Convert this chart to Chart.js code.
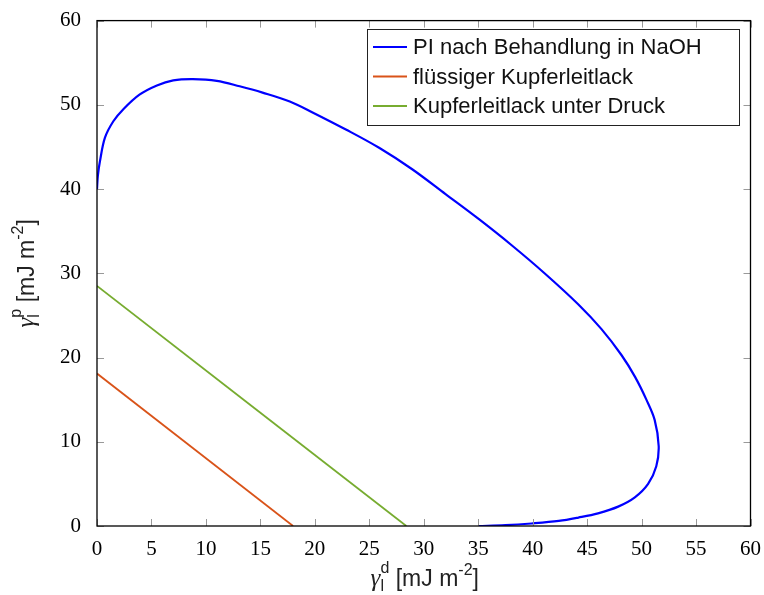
<!DOCTYPE html>
<html>
<head>
<meta charset="utf-8">
<script src="https://cdn.jsdelivr.net/npm/chart.js@4"></script>
<style>
  html, body { margin: 0; padding: 0; background: #fff; }
  #wrap { width: 764px; height: 595px; }
</style>
</head>
<body>
<div id="wrap"><canvas id="chartCanvas" width="764" height="595"></canvas></div>
<script>
// wetting envelope of PI after NaOH treatment (gamma_l^d, gamma_l^p)
const piX = [0, 0.08, 0.27, 0.73, 1.5, 2.4, 3.9, 5.5, 7.0, 8.8, 11.0, 13.1, 15.2, 17.7, 19.79, 22.85, 25.9, 28.94, 32.0, 35.04,
  38.1, 41.14, 44.2, 46.3, 48.15, 49.4, 50.44, 51.2, 51.57, 51.35, 50.6, 49.38, 47.85, 46.0, 44.2, 42.4, 39.9, 37.5, 35.0];
const piY = [40, 41.6, 43.3, 46.1, 48.05, 49.45, 51.2, 52.3, 52.9, 53.05, 52.85, 52.2, 51.45, 50.4, 49.1, 47.07, 44.9, 42.35, 39.4, 36.45,
  33.3, 29.95, 26.3, 23.4, 20.3, 17.7, 15.0, 12.6, 9.5, 7.1, 5.0, 3.4, 2.3, 1.5, 1.0, 0.6, 0.3, 0.1, 0];

// copper lacquer lines
const fluessigX = [0, 18.0];
const fluessigY = [18.1, 0];
const druckX = [0, 28.4];
const druckY = [28.5, 0];

const seriesLabels = ['PI nach Behandlung in NaOH', 'flüssiger Kupferleitlack', 'Kupferleitlack unter Druck'];
const xTicks = [0, 5, 10, 15, 20, 25, 30, 35, 40, 45, 50, 55, 60];
const yTicks = [0, 10, 20, 30, 40, 50, 60];

const toPoints = (xs, ys) => xs.map((x, i) => ({ x, y: ys[i] }));

const SANS = '"Liberation Sans", Arial, sans-serif';
const SERIF = '"Liberation Serif", "DejaVu Serif", serif';

// draws a run of text pieces (with sub/superscripts) centred on (cx, cy)
function drawRich(ctx, parts, cx, cy, angle) {
  ctx.save();
  ctx.translate(cx, cy);
  if (angle) ctx.rotate(angle);
  ctx.textBaseline = 'alphabetic';
  ctx.textAlign = 'left';
  let total = 0;
  parts.forEach(p => { ctx.font = p.font; p.w = ctx.measureText(p.t).width; total += p.adv === 0 ? 0 : p.w; });
  let x = -total / 2;
  parts.forEach(p => {
    ctx.font = p.font;
    ctx.fillStyle = p.color || '#222';
    ctx.fillText(p.t, x, p.dy || 0);
    if (p.adv !== 0) x += p.w;
  });
  ctx.restore();
}

const axisTitles = {
  id: 'axisTitles',
  afterDraw(chart) {
    const ctx = chart.ctx;
    const a = chart.chartArea;
    const parts = (sup) => [
      { t: 'γ', font: 'italic 25px ' + SERIF, dy: 7 },
      { t: 'l', font: '16px ' + SANS, dy: 12, adv: 0 },
      { t: sup, font: '16px ' + SANS, dy: -6 },
      { t: ' [mJ m', font: '23px ' + SANS, dy: 7 },
      { t: '-2', font: '16px ' + SANS, dy: -4 },
      { t: ']', font: '23px ' + SANS, dy: 7 }
    ];
    drawRich(ctx, parts('d'), (a.left + a.right) / 2 + 1, 579);
    drawRich(ctx, parts('p'), 27, (a.top + a.bottom) / 2, -Math.PI / 2);
  }
};

// box frame plus inward tick marks on all four sides
const frameTicks = {
  id: 'frameTicks',
  afterDatasetsDraw(chart) {
    const ctx = chart.ctx;
    const a = chart.chartArea;
    const xs = chart.scales.x, ys = chart.scales.y;
    const len = 7;
    ctx.save();
    ctx.strokeStyle = '#999';
    ctx.lineWidth = 1;
    ctx.beginPath();
    xTicks.forEach(v => {
      const px = Math.round(xs.getPixelForValue(v)) + 0.5;
      ctx.moveTo(px, a.bottom); ctx.lineTo(px, a.bottom - len);
      ctx.moveTo(px, a.top); ctx.lineTo(px, a.top + len);
    });
    yTicks.forEach(v => {
      const py = Math.round(ys.getPixelForValue(v)) + 0.5;
      ctx.moveTo(a.left, py); ctx.lineTo(a.left + len, py);
      ctx.moveTo(a.right, py); ctx.lineTo(a.right - len, py);
    });
    ctx.stroke();
    ctx.strokeStyle = '#000';
    ctx.lineWidth = 1.3;
    ctx.strokeRect(a.left, a.top, a.right - a.left, a.bottom - a.top);
    ctx.restore();
  }
};

// legend box in the upper right of the plot
const boxLegend = {
  id: 'boxLegend',
  afterDraw(chart) {
    const ctx = chart.ctx;
    const left = 367, top = 29, w = 372, h = 96;
    ctx.save();
    ctx.fillStyle = '#fff';
    ctx.fillRect(left, top, w, h);
    ctx.strokeStyle = '#222';
    ctx.lineWidth = 1;
    ctx.strokeRect(left + 0.5, top + 0.5, w, h);
    ctx.font = '22px ' + SANS;
    ctx.textBaseline = 'middle';
    chart.data.datasets.forEach((ds, i) => {
      const y = top + 18 + i * 29.5;
      ctx.strokeStyle = ds.borderColor;
      ctx.lineWidth = ds.borderWidth;
      ctx.beginPath();
      ctx.moveTo(373, y); ctx.lineTo(407, y);
      ctx.stroke();
      ctx.fillStyle = '#111';
      ctx.fillText(ds.label, 413, y + 1);
    });
    ctx.restore();
  }
};

const ctx = document.getElementById('chartCanvas').getContext('2d');
window.chart = new Chart(ctx, {
  type: 'scatter',
  data: {
    datasets: [
      { label: seriesLabels[0], data: toPoints(piX, piY), borderColor: '#0000ff', borderWidth: 2.2 },
      { label: seriesLabels[1], data: toPoints(fluessigX, fluessigY), borderColor: '#d95319', borderWidth: 1.8 },
      { label: seriesLabels[2], data: toPoints(druckX, druckY), borderColor: '#77ac30', borderWidth: 1.8 }
    ].map(d => Object.assign(d, { showLine: true, pointRadius: 0, fill: false, tension: 0.35 }))
  },
  options: {
    responsive: false,
    animation: false,
    layout: { padding: { top: 18, right: 11, left: 0, bottom: 0 } },
    plugins: { legend: { display: false }, tooltip: { enabled: false } },
    scales: {
      x: {
        type: 'linear', min: 0, max: 60,
        afterBuildTicks: s => { s.ticks = xTicks.map(v => ({ value: v })); },
        ticks: { font: { family: SERIF, size: 21 }, color: '#000', padding: 3, maxRotation: 0 },
        grid: { display: false }, border: { display: false },
        afterFit: s => { s.height = 69; }
      },
      y: {
        type: 'linear', min: 0, max: 60,
        afterBuildTicks: s => { s.ticks = yTicks.map(v => ({ value: v })); },
        ticks: { font: { family: SERIF, size: 21 }, color: '#000', padding: 8 },
        grid: { display: false }, border: { display: false },
        afterFit: s => { s.width = 97; }
      }
    }
  },
  plugins: [frameTicks, boxLegend, axisTitles]
});
</script>
</body>
</html>
